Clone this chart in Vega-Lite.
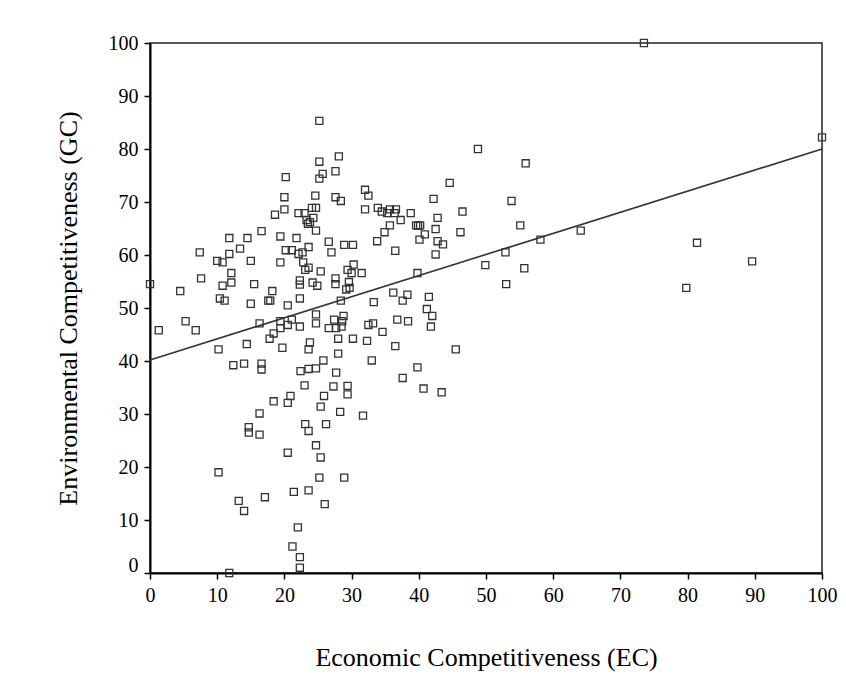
{
  "$schema": "https://vega.github.io/schema/vega-lite/v6.json",
  "autosize": {"type": "none"},
  "width": 672,
  "height": 530,
  "padding": {"left": 150, "top": 43, "right": 24, "bottom": 113},
  "background": "white",
  "config": {
    "font": "Liberation Serif",
    "view": {"stroke": "#222222", "strokeWidth": 1.5},
    "axis": {
      "domainColor": "black", "domainWidth": 2,
      "tickColor": "black", "tickWidth": 1.5, "tickSize": 6,
      "labelFont": "Liberation Serif", "labelFontSize": 20, "labelColor": "black", "labelPadding": 6,
      "labelFlush": false,
      "titleFont": "Liberation Serif", "titleFontSize": 26, "titleFontWeight": "normal", "titleColor": "black",
      "grid": false
    }
  },
  "datasets": {
    "pts": [
      {"ec":0,"gc":54.5},{"ec":1.3,"gc":45.8},{"ec":4.5,"gc":53.2},{"ec":5.3,"gc":47.5},{"ec":6.8,"gc":45.8},{"ec":7.4,"gc":60.5},{"ec":7.6,"gc":55.6},{"ec":10.0,"gc":58.9},{"ec":10.8,"gc":58.6},{"ec":10.2,"gc":42.2},{"ec":10.2,"gc":19.0},{"ec":10.4,"gc":51.8},{"ec":11.1,"gc":51.4},{"ec":10.8,"gc":54.2},{"ec":11.8,"gc":63.2},{"ec":11.8,"gc":60.2},{"ec":12.1,"gc":56.6},{"ec":12.1,"gc":54.8},{"ec":11.8,"gc":0},{"ec":12.4,"gc":39.2},{"ec":13.2,"gc":13.6},{"ec":13.4,"gc":61.2},{"ec":14.0,"gc":39.5},{"ec":14.0,"gc":11.7},{"ec":14.4,"gc":43.2},{"ec":14.5,"gc":63.2},{"ec":14.7,"gc":27.5},{"ec":14.7,"gc":26.5},{"ec":15.0,"gc":58.9},{"ec":15.0,"gc":50.8},{"ec":15.5,"gc":54.5},{"ec":16.3,"gc":47.1},{"ec":16.3,"gc":30.1},{"ec":16.3,"gc":26.1},{"ec":16.6,"gc":64.5},{"ec":16.6,"gc":39.5},{"ec":16.6,"gc":38.4},{"ec":17.1,"gc":14.3},{"ec":17.6,"gc":51.4},{"ec":17.9,"gc":51.4},{"ec":17.8,"gc":44.2},{"ec":18.2,"gc":53.2},{"ec":18.4,"gc":45.2},{"ec":18.4,"gc":32.4},{"ec":18.6,"gc":67.6},{"ec":19.4,"gc":63.5},{"ec":19.4,"gc":58.6},{"ec":19.4,"gc":47.5},{"ec":19.4,"gc":46.2},{"ec":19.7,"gc":42.5},{"ec":20.0,"gc":70.9},{"ec":20.0,"gc":68.6},{"ec":20.2,"gc":74.7},{"ec":20.2,"gc":60.9},{"ec":20.5,"gc":50.5},{"ec":20.5,"gc":46.8},{"ec":20.5,"gc":32.1},{"ec":20.5,"gc":22.7},{"ec":20.9,"gc":33.4},{"ec":21.1,"gc":60.9},{"ec":21.1,"gc":47.8},{"ec":21.2,"gc":5.0},{"ec":21.4,"gc":15.3},{"ec":21.8,"gc":63.2},{"ec":22.0,"gc":8.6},{"ec":22.1,"gc":67.9},{"ec":22.1,"gc":60.2},{"ec":22.3,"gc":55.2},{"ec":22.3,"gc":54.4},{"ec":22.3,"gc":51.8},{"ec":22.3,"gc":46.5},{"ec":22.3,"gc":3.0},{"ec":22.3,"gc":1.0},{"ec":22.4,"gc":38.1},{"ec":22.7,"gc":60.5},{"ec":22.8,"gc":58.6},{"ec":23.0,"gc":67.9},{"ec":23.0,"gc":35.4},{"ec":23.1,"gc":57.2},{"ec":23.1,"gc":28.1},{"ec":23.3,"gc":66.6},{"ec":23.5,"gc":65.9},{"ec":23.8,"gc":66.2},{"ec":23.6,"gc":61.5},{"ec":23.6,"gc":57.6},{"ec":23.6,"gc":42.2},{"ec":23.6,"gc":38.5},{"ec":23.6,"gc":26.8},{"ec":23.6,"gc":15.6},{"ec":23.8,"gc":43.5},{"ec":24.1,"gc":68.9},{"ec":24.2,"gc":54.8},{"ec":24.3,"gc":67.0},{"ec":24.6,"gc":71.2},{"ec":24.7,"gc":68.9},{"ec":24.7,"gc":64.6},{"ec":24.7,"gc":48.8},{"ec":24.7,"gc":47.1},{"ec":24.7,"gc":38.6},{"ec":24.7,"gc":24.1},{"ec":24.9,"gc":54.2},{"ec":25.2,"gc":85.3},{"ec":25.2,"gc":77.6},{"ec":25.2,"gc":74.4},{"ec":25.2,"gc":18.0},{"ec":25.4,"gc":56.9},{"ec":25.4,"gc":31.4},{"ec":25.4,"gc":21.8},{"ec":25.7,"gc":75.3},{"ec":25.8,"gc":40.1},{"ec":25.9,"gc":33.4},{"ec":26.0,"gc":13.0},{"ec":26.2,"gc":28.1},{"ec":26.6,"gc":62.5},{"ec":26.6,"gc":46.2},{"ec":27.0,"gc":60.5},{"ec":27.3,"gc":35.2},{"ec":27.4,"gc":47.8},{"ec":27.6,"gc":75.8},{"ec":27.6,"gc":70.9},{"ec":27.6,"gc":55.6},{"ec":27.6,"gc":54.5},{"ec":27.7,"gc":46.2},{"ec":27.7,"gc":37.8},{"ec":28.0,"gc":44.2},{"ec":28.0,"gc":41.4},{"ec":28.1,"gc":78.6},{"ec":28.3,"gc":30.4},{"ec":28.4,"gc":70.2},{"ec":28.4,"gc":51.4},{"ec":28.5,"gc":46.5},{"ec":28.6,"gc":47.5},{"ec":28.8,"gc":48.5},{"ec":28.9,"gc":61.9},{"ec":28.9,"gc":18.0},{"ec":29.2,"gc":53.5},{"ec":29.4,"gc":57.2},{"ec":29.4,"gc":35.3},{"ec":29.4,"gc":33.7},{"ec":29.6,"gc":54.9},{"ec":29.7,"gc":53.8},{"ec":30.0,"gc":56.6},{"ec":30.2,"gc":61.9},{"ec":30.3,"gc":58.2},{"ec":30.2,"gc":44.2},{"ec":31.5,"gc":56.6},{"ec":31.7,"gc":29.7},{"ec":32.0,"gc":72.3},{"ec":32.0,"gc":68.6},{"ec":32.3,"gc":43.8},{"ec":32.5,"gc":71.2},{"ec":32.5,"gc":46.8},{"ec":33.0,"gc":40.1},{"ec":33.2,"gc":47.1},{"ec":33.3,"gc":51.1},{"ec":33.8,"gc":62.6},{"ec":33.9,"gc":68.9},{"ec":34.5,"gc":68.2},{"ec":34.6,"gc":45.5},{"ec":34.9,"gc":64.3},{"ec":35.3,"gc":67.9},{"ec":35.7,"gc":68.6},{"ec":35.7,"gc":65.6},{"ec":36.2,"gc":52.9},{"ec":36.4,"gc":67.9},{"ec":36.5,"gc":60.8},{"ec":36.5,"gc":42.8},{"ec":36.6,"gc":68.6},{"ec":36.8,"gc":47.8},{"ec":37.3,"gc":66.6},{"ec":37.6,"gc":51.4},{"ec":37.6,"gc":36.8},{"ec":38.3,"gc":52.5},{"ec":38.4,"gc":47.5},{"ec":38.8,"gc":67.9},{"ec":39.6,"gc":65.6},{"ec":39.9,"gc":65.5},{"ec":39.8,"gc":56.6},{"ec":39.8,"gc":38.8},{"ec":40.1,"gc":62.9},{"ec":40.2,"gc":65.6},{"ec":40.7,"gc":34.8},{"ec":40.9,"gc":63.9},{"ec":41.2,"gc":49.8},{"ec":41.5,"gc":52.1},{"ec":41.8,"gc":46.5},{"ec":42.0,"gc":48.5},{"ec":42.2,"gc":70.6},{"ec":42.5,"gc":64.9},{"ec":42.5,"gc":60.1},{"ec":42.8,"gc":67.0},{"ec":42.8,"gc":62.6},{"ec":43.4,"gc":34.1},{"ec":43.6,"gc":62.0},{"ec":44.6,"gc":73.6},{"ec":45.5,"gc":42.2},{"ec":46.2,"gc":64.3},{"ec":46.5,"gc":68.2},{"ec":48.8,"gc":80.0},{"ec":49.9,"gc":58.1},{"ec":52.9,"gc":60.5},{"ec":53.0,"gc":54.5},{"ec":53.8,"gc":70.2},{"ec":55.1,"gc":65.6},{"ec":55.7,"gc":57.5},{"ec":55.9,"gc":77.3},{"ec":58.1,"gc":62.9},{"ec":64.1,"gc":64.6},{"ec":73.5,"gc":100},{"ec":79.8,"gc":53.8},{"ec":81.4,"gc":62.3},{"ec":89.6,"gc":58.8},{"ec":100,"gc":82.2}
    ],
    "fit": [
      {"ec": 0, "gc": 40.2},
      {"ec": 100, "gc": 80.0}
    ]
  },
  "layer": [
    {
      "data": {"name": "fit"},
      "mark": {"type": "line", "color": "#333333", "strokeWidth": 1.6},
      "encoding": {
        "x": {"field": "ec", "type": "quantitative"},
        "y": {"field": "gc", "type": "quantitative"}
      }
    },
    {
      "data": {"name": "pts"},
      "mark": {"type": "point", "shape": "square", "filled": false, "size": 50, "stroke": "#333333", "strokeWidth": 1.3, "opacity": 1},
      "encoding": {
        "x": {
          "field": "ec", "type": "quantitative",
          "scale": {"domain": [0, 100], "nice": false, "zero": false},
          "axis": {"values": [0,10,20,30,40,50,60,70,80,90,100], "labelFlush": false, "title": "Economic Competitiveness (EC)", "titlePadding": 39}
        },
        "y": {
          "field": "gc", "type": "quantitative",
          "scale": {"domain": [0, 100], "nice": false, "zero": false},
          "axis": {
            "values": [0,10,20,30,40,50,60,70,80,90,100],
            "labelFlush": false,
            "title": "Environmental Competitiveness (GC)",
            "titlePadding": 27,
            "labelOffset": {"condition": {"test": "datum.value == 0", "value": -8}, "value": 0}
          }
        }
      }
    }
  ]
}
